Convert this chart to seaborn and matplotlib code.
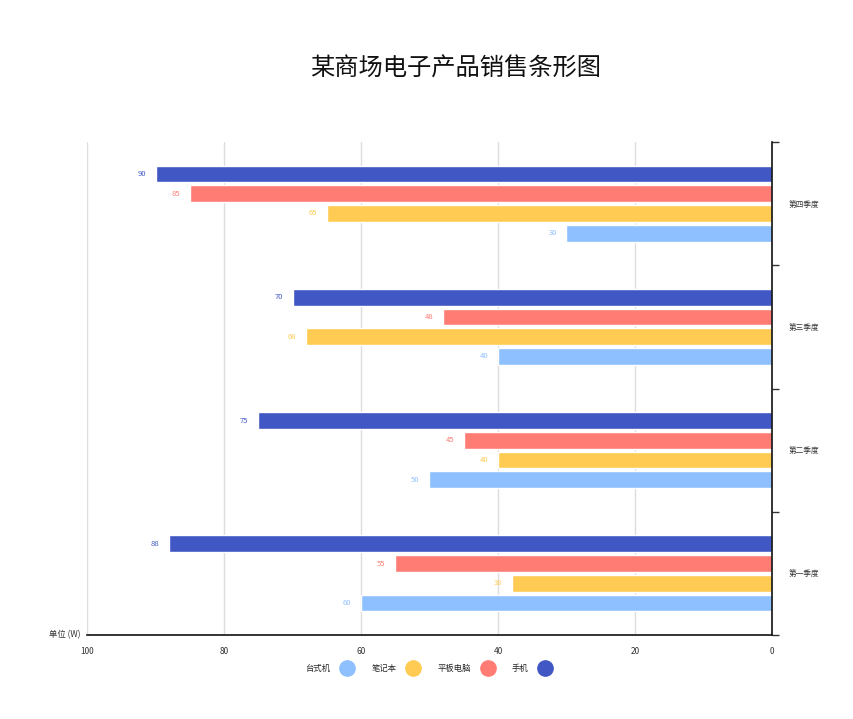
import matplotlib
matplotlib.use("Agg")
import matplotlib.pyplot as plt
from matplotlib.lines import Line2D
import seaborn as sns
import pandas as pd

quarters = ["第一季度", "第二季度", "第三季度", "第四季度"]
series = ["手机", "平板电脑", "笔记本", "台式机"]
phone = [88, 75, 70, 90]
tablet = [55, 45, 48, 85]
laptop = [38, 40, 68, 65]
desktop = [60, 50, 40, 30]
colors = ["#4157C3", "#FF7C75", "#FFCB52", "#8EC0FF"]
x_ticks = [0, 20, 40, 60, 80, 100]

rows = []
for s, vals in zip(series, [phone, tablet, laptop, desktop]):
    for q, v in zip(quarters, vals):
        rows.append({"季度": q, "产品": s, "销量": v})
df = pd.DataFrame(rows)

sns.set_style("white")
plt.rcParams["font.family"] = ["Noto Sans CJK SC", "DejaVu Sans"]

fig = plt.figure(figsize=(8.54, 7.19), dpi=100)
ax = fig.add_axes([87/854, 1-635/719, (772-87)/854, (635-142)/719])

order = quarters[::-1]
sns.barplot(data=df, y="季度", x="销量", hue="产品", order=order,
            hue_order=series, palette=colors, orient="h",
            width=0.64, gap=0.15, saturation=1, ax=ax, legend=False)

ax.set_xlim(100, 0)
ax.set_ylim(3.5, -0.5)

# value labels at the end of each bar
for p in ax.patches:
    w = p.get_width()
    if w <= 0:
        continue
    yc = p.get_y() + p.get_height() / 2
    c = p.get_facecolor()
    ax.annotate(f"{w:g}", xy=(w, yc), xytext=(-7, 0), textcoords="offset points",
                ha="right", va="center", fontsize=5.5, color=c)

ax.set_xticks(x_ticks)
ax.set_xticklabels([str(t) for t in x_ticks], fontsize=6, color="#333333")
ax.xaxis.grid(True, color="#dddddd", linewidth=1)
ax.set_axisbelow(True)
ax.set_xlabel("")
ax.set_ylabel("")

ax.yaxis.tick_right()
ax.set_yticks(range(4))
ax.set_yticklabels(order, fontsize=5.5, color="#333333")
ax.tick_params(axis="y", which="major", length=0, pad=12)
ax.set_yticks([-0.5, 0.5, 1.5, 2.5, 3.5], minor=True)
ax.tick_params(axis="y", which="minor", length=5, width=1, color="#333333", right=True)
ax.tick_params(axis="x", length=3, width=1, color="#333333", pad=6)

for sp in ["top", "left"]:
    ax.spines[sp].set_visible(False)
ax.spines["right"].set_color("#111111")
ax.spines["bottom"].set_color("#111111")
ax.spines["right"].set_linewidth(1.2)
ax.spines["bottom"].set_linewidth(1.2)

fig.text(0.534, 1-69/719, "某商场电子产品销售条形图", ha="center", va="center",
         fontsize=17.5, color="#111111")
fig.text(81/854, 1-635/719, "单位 (W)", ha="right", va="center",
         fontsize=6, color="#333333")

handles = [Line2D([], [], marker="o", linestyle="", markersize=11,
                  markerfacecolor=c, markeredgecolor=c) for c in colors]
leg_order = [3, 2, 1, 0]
fig.legend([handles[i] for i in leg_order], [series[i] for i in leg_order],
           loc="center", bbox_to_anchor=(0.503, 1-668/719), ncol=4,
           frameon=False, markerfirst=False, fontsize=6,
           columnspacing=1.9, handletextpad=1.0)

fig.savefig("out.png", dpi=100)
